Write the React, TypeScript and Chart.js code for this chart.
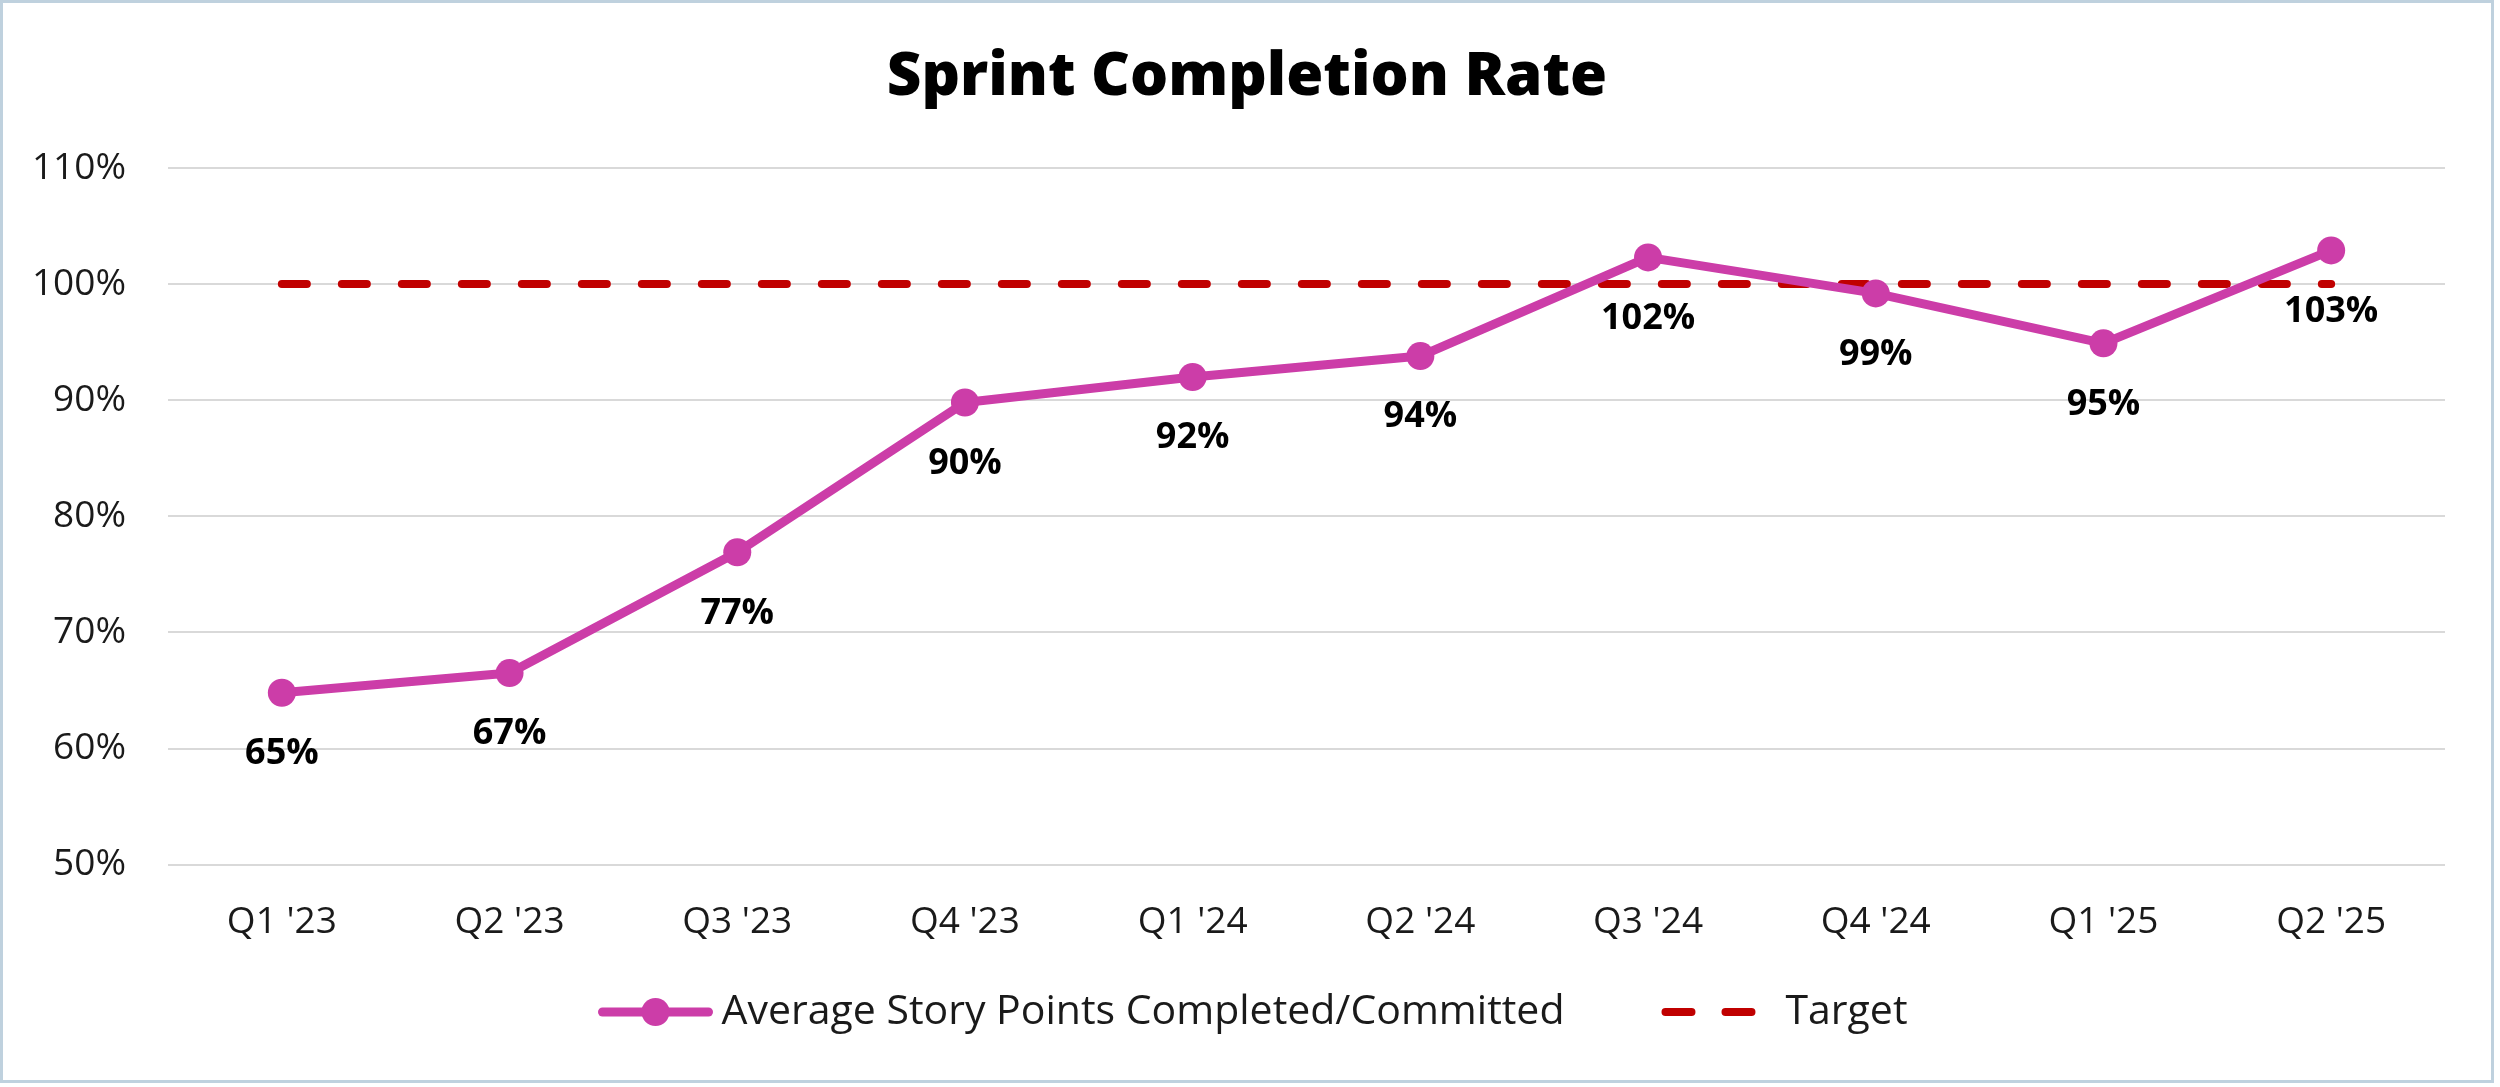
import React, { useEffect, useRef } from "react";
import { Chart, registerables } from "chart.js";

Chart.register(...registerables);

const categories = ["Q1 '23", "Q2 '23", "Q3 '23", "Q4 '23", "Q1 '24", "Q2 '24", "Q3 '24", "Q4 '24", "Q1 '25", "Q2 '25"];
const completionRate = [64.8, 66.5, 76.9, 89.8, 92.0, 93.8, 102.3, 99.2, 94.9, 102.9];
const targetValues = [100, 100, 100, 100, 100, 100, 100, 100, 100, 100];
const seriesNames = ["Average Story Points Completed/Committed", "Target"];
const yTicks = { min: 50, max: 110, step: 10 };

const PINK = "#CC3DA8";
const RED = "#C00000";
const FONT = '"Open Sans", "Noto Sans", sans-serif';

const dataLabelPlugin = {
  id: "dataLabels",
  afterDatasetsDraw(chart: any) {
    const ctx = chart.ctx;
    const meta = chart.getDatasetMeta(0);
    const values = chart.data.datasets[0].data as number[];
    ctx.save();
    ctx.font = `bold 36px ${FONT}`;
    ctx.fillStyle = "#000000";
    ctx.textAlign = "center";
    ctx.textBaseline = "middle";
    meta.data.forEach((el: any, i: number) => {
      ctx.fillText(`${Math.round(values[i])}%`, el.x, el.y + 61);
    });
    ctx.restore();
  },
};

const customLegendPlugin = {
  id: "customLegend",
  afterDraw(chart: any) {
    const ctx = chart.ctx;
    ctx.save();
    ctx.font = `41px ${FONT}`;
    const t1 = ctx.measureText(seriesNames[0]).width;
    const t2 = ctx.measureText(seriesNames[1]).width;
    const m1 = 114, g1 = 9, gap = 97, m2 = 94, g2 = 30;
    const total = m1 + g1 + t1 + gap + m2 + g2 + t2;
    let x = chart.width / 2 - total / 2 + 6;
    const y = chart.height - 68;
    // marker 1: line with circle
    ctx.strokeStyle = PINK;
    ctx.lineWidth = 9;
    ctx.lineCap = "round";
    ctx.beginPath();
    ctx.moveTo(x + 4, y);
    ctx.lineTo(x + m1 - 4, y);
    ctx.stroke();
    ctx.fillStyle = PINK;
    ctx.beginPath();
    ctx.arc(x + m1 / 2, y, 14, 0, Math.PI * 2);
    ctx.fill();
    x += m1 + g1;
    ctx.fillStyle = "#1a1a1a";
    ctx.textAlign = "left";
    ctx.textBaseline = "middle";
    ctx.fillText(seriesNames[0], x, y);
    x += t1 + gap;
    // marker 2: dashes
    ctx.strokeStyle = RED;
    ctx.lineWidth = 8;
    ctx.lineCap = "round";
    ctx.beginPath();
    ctx.moveTo(x + 4, y);
    ctx.lineTo(x + 30, y);
    ctx.moveTo(x + 64, y);
    ctx.lineTo(x + 90, y);
    ctx.stroke();
    x += m2 + g2;
    ctx.fillText(seriesNames[1], x, y);
    ctx.restore();
  },
};

export default function App() {
  const canvasRef = useRef<HTMLCanvasElement | null>(null);

  useEffect(() => {
    document.body.style.margin = "0";
    const canvas = canvasRef.current;
    if (!canvas) return;
    const chart = new Chart(canvas, {
      type: "line",
      data: {
        labels: categories,
        datasets: [
          {
            label: seriesNames[0],
            data: completionRate,
            borderColor: PINK,
            backgroundColor: PINK,
            borderWidth: 9,
            pointRadius: 14,
            pointHoverRadius: 14,
            pointBackgroundColor: PINK,
            pointBorderWidth: 0,
            tension: 0,
            borderCapStyle: "round",
            borderJoinStyle: "round",
          },
          {
            label: seriesNames[1],
            data: targetValues,
            borderColor: RED,
            backgroundColor: RED,
            borderWidth: 8,
            borderDash: [25, 35],
            borderCapStyle: "round",
            pointRadius: 0,
            pointHoverRadius: 0,
            tension: 0,
          },
        ],
      },
      options: {
        responsive: true,
        maintainAspectRatio: false,
        animation: false,
        devicePixelRatio: 1,
        layout: { padding: { left: 21, right: 21, top: 0, bottom: 99 } },
        plugins: {
          legend: { display: false },
          tooltip: { enabled: false },
          title: {
            display: true,
            text: "Sprint Completion Rate",
            color: "#000000",
            font: { family: FONT, size: 60, weight: "800", lineHeight: 1.2 },
            padding: { top: 39, bottom: 54 },
          },
        },
        scales: {
          x: {
            offset: true,
            grid: { display: false, drawTicks: false },
            border: { display: false },
            ticks: {
              color: "#1a1a1a",
              font: { family: FONT, size: 37 },
              padding: 36,
              maxRotation: 0,
            },
          },
          y: {
            min: yTicks.min,
            max: yTicks.max,
            grid: { color: "#d9d9d9", lineWidth: 2, drawTicks: false },
            border: { display: false },
            ticks: {
              stepSize: yTicks.step,
              color: "#1a1a1a",
              font: { family: FONT, size: 37 },
              padding: 42,
              callback: (v: any) => `${v}%`,
            },
            afterFit: (scale: any) => {
              scale.width = 144;
            },
          },
          yRight: {
            position: "right",
            display: true,
            min: yTicks.min,
            max: yTicks.max,
            grid: { display: false, drawTicks: false },
            border: { display: false },
            ticks: { display: false },
            afterFit: (scale: any) => {
              scale.width = 25;
            },
          },
        },
      },
      plugins: [dataLabelPlugin, customLegendPlugin],
    });
    return () => chart.destroy();
  }, []);

  return (
    <div
      style={{
        position: "fixed",
        left: 0,
        top: 0,
        width: 2494,
        height: 1083,
        border: "3px solid #bfd1de",
        boxSizing: "border-box",
        background: "#ffffff",
      }}
    >
      <canvas ref={canvasRef} />
    </div>
  );
}
